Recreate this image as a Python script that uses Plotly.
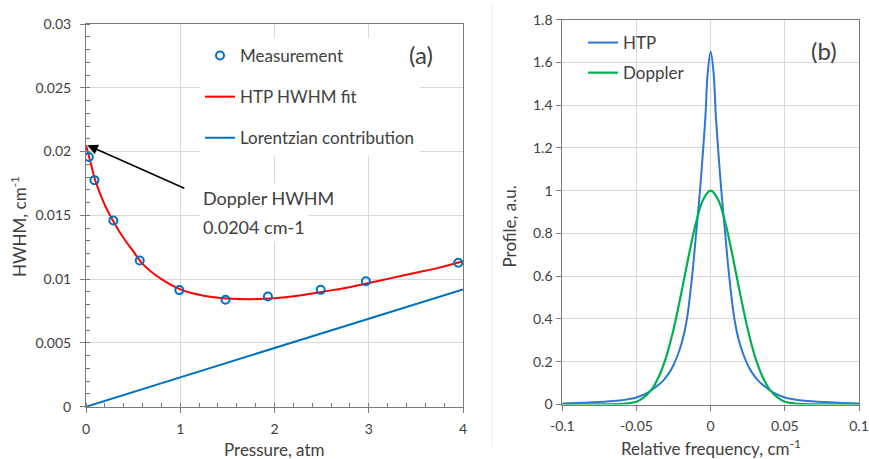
import plotly.graph_objects as go

# ---------------- data: panel (a) ----------------
meas_pressure = [0.03, 0.09, 0.29, 0.57, 0.99, 1.48, 1.93, 2.49, 2.97, 3.95]
meas_hwhm = [0.01958, 0.01776, 0.01459, 0.01146, 0.00914, 0.00838, 0.00864, 0.00916, 0.00984, 0.01128]

fit_pressure = [0, 0.05, 0.1, 0.2, 0.3, 0.4, 0.5, 0.6, 0.8, 1.0, 1.25, 1.5, 1.75,
                2.0, 2.25, 2.5, 2.75, 3.0, 3.25, 3.5, 3.75, 4.0]
fit_hwhm = [0.0205, 0.0191, 0.0177, 0.0158, 0.0144, 0.0132, 0.0122, 0.0112, 0.0100,
            0.0092, 0.0087, 0.00848, 0.00843, 0.0085, 0.0087, 0.0090, 0.0093, 0.0097,
            0.0101, 0.0105, 0.0109, 0.0114]

lor_pressure = [0, 4]
lor_hwhm = [0, 0.0092]

# ---------------- data: panel (b) ----------------
htp_freq = [-0.1, -0.09, -0.08, -0.07, -0.06, -0.05, -0.042, -0.036, -0.032, -0.028,
            -0.025, -0.022, -0.019, -0.016, -0.0125, -0.0098, -0.0072, -0.005, -0.0035,
            -0.002, 0, 0.002, 0.0035, 0.005, 0.0072, 0.0098, 0.0125, 0.016, 0.019, 0.022,
            0.025, 0.028, 0.032, 0.036, 0.042, 0.05, 0.06, 0.07, 0.08, 0.09, 0.1]
htp_prof = [0.005, 0.007, 0.010, 0.014, 0.020, 0.033, 0.057, 0.087, 0.112, 0.148,
            0.185, 0.235, 0.30, 0.40, 0.60, 0.80, 1.0, 1.2, 1.35,
            1.55, 1.65, 1.55, 1.35, 1.2, 1.0, 0.80, 0.60, 0.40, 0.30, 0.235,
            0.185, 0.148, 0.112, 0.087, 0.057, 0.033, 0.020, 0.014, 0.010, 0.007, 0.005]

dop_freq = [-0.1, -0.08, -0.06, -0.05, -0.045, -0.04, -0.035, -0.03, -0.025, -0.02,
            -0.015, -0.01, -0.005, 0, 0.005, 0.01, 0.015, 0.02, 0.025, 0.03, 0.035,
            0.04, 0.045, 0.05, 0.06, 0.08, 0.1]
dop_prof = [0, 0.0005, 0.003, 0.013, 0.033, 0.068, 0.13, 0.222, 0.352, 0.514,
            0.688, 0.847, 0.959, 1.0, 0.959, 0.847, 0.688, 0.514, 0.352, 0.222, 0.13,
            0.068, 0.033, 0.013, 0.003, 0.0005, 0]

a_xticks = [0, 1, 2, 3, 4]
a_yticks = [0, 0.005, 0.01, 0.015, 0.02, 0.025, 0.03]
b_xticks = [-0.1, -0.05, 0, 0.05, 0.1]
b_xticktext = ["-0.1", "-0.05", "0", "0.05", "0.1"]
b_yticks = [0, 0.2, 0.4, 0.6, 0.8, 1, 1.2, 1.4, 1.6, 1.8]

# ---------------- styling ----------------
W, H = 869, 459
FONT = "Lato, 'Open Sans', sans-serif"
TXT = "#404040"
AXC = "#7a7a7a"
GRID = "#d9d9d9"
BLUE = "#0070C0"
RED = "#FF0000"
HTPC = "#2F76D2"
GREEN = "#00B050"


def px(x):
    return x / W


def py(y):
    return 1 - y / H


fig = go.Figure()

fig.add_trace(go.Scatter(x=fit_pressure, y=fit_hwhm, mode="lines", name="HTP HWHM fit",
                         line=dict(color=RED, width=2, shape="spline"),
                         xaxis="x", yaxis="y", legend="legend", legendgroup="a2", legendrank=2))
fig.add_trace(go.Scatter(x=lor_pressure, y=lor_hwhm, mode="lines", name="Lorentzian contribution",
                         line=dict(color=BLUE, width=2),
                         xaxis="x", yaxis="y", legend="legend", legendgroup="a3", legendrank=3))
fig.add_trace(go.Scatter(x=meas_pressure, y=meas_hwhm, mode="markers", name="Measurement",
                         marker=dict(symbol="circle-open", size=8, color=BLUE,
                                     line=dict(width=2, color=BLUE)),
                         xaxis="x", yaxis="y", legend="legend", legendgroup="a1", legendrank=1))

fig.add_trace(go.Scatter(x=htp_freq, y=htp_prof, mode="lines", name="HTP",
                         line=dict(color=HTPC, width=2, shape="spline"),
                         xaxis="x2", yaxis="y2", legend="legend2", legendgroup="b1", legendrank=1))
fig.add_trace(go.Scatter(x=dop_freq, y=dop_prof, mode="lines", name="Doppler",
                         line=dict(color=GREEN, width=2.2, shape="spline"),
                         xaxis="x2", yaxis="y2", legend="legend2", legendgroup="b2", legendrank=2))

axis_common = dict(showline=True, linecolor=AXC, linewidth=1, mirror=True,
                   gridcolor=GRID, gridwidth=1, zeroline=False, automargin=False,
                   tickfont=dict(family=FONT, size=14, color=TXT),
                   ticks="outside", ticklen=5, tickcolor=AXC)

fig.update_layout(
    width=W, height=H,
    margin=dict(l=0, r=0, t=0, b=0, autoexpand=False),
    paper_bgcolor="white", plot_bgcolor="white",
    font=dict(family=FONT, color=TXT),
    xaxis=dict(domain=[px(86), px(463)], range=[0, 4], tickvals=a_xticks,
               ticklabelstandoff=4,
               minor=dict(ticks="inside", dtick=0.2, ticklen=4, tickcolor=AXC, showgrid=False),
               anchor="y", **axis_common),
    yaxis=dict(domain=[py(406.7), py(24)], range=[0, 0.03], tickvals=a_yticks,
               ticklabelstandoff=6,
               minor=dict(ticks="inside", dtick=0.001, ticklen=4, tickcolor=AXC, showgrid=False),
               anchor="x", **axis_common),
    xaxis2=dict(domain=[px(562.3), px(859)], range=[-0.1, 0.1], tickvals=b_xticks,
                ticktext=b_xticktext, ticklabelstandoff=4, anchor="y2", **axis_common),
    yaxis2=dict(domain=[py(404.5), py(19.7)], range=[0, 1.8], tickvals=b_yticks,
                ticklabelstandoff=1, anchor="x2", **axis_common),
    legend=dict(x=px(200), y=py(38), xanchor="left", yanchor="top",
                bgcolor="white", borderwidth=0, tracegroupgap=16,
                font=dict(family=FONT, size=17, color=TXT)),
    legend2=dict(x=px(583), y=py(25), xanchor="left", yanchor="top",
                 bgcolor="rgba(0,0,0,0)", borderwidth=0, tracegroupgap=5,
                 font=dict(family=FONT, size=17, color=TXT)),
    showlegend=True,
)

ctr = dict(xref="paper", yref="paper", showarrow=False, xanchor="center", yanchor="middle")
annotations = [
    dict(text="Pressure, atm", x=px(274.5), y=py(449),
         font=dict(family=FONT, size=17, color=TXT), **ctr),
    dict(text="HWHM, cm<sup>-1</sup>", x=px(18), y=py(227), textangle=-90,
         font=dict(family=FONT, size=17, color=TXT), **ctr),
    dict(text="Relative frequency, cm<sup>-1</sup>", x=px(711), y=py(447),
         font=dict(family=FONT, size=17, color=TXT), **ctr),
    dict(text="Profile, a.u.", x=px(509), y=py(226.5), textangle=-90,
         font=dict(family=FONT, size=17, color=TXT), **ctr),
    dict(text="(a)", x=px(421), y=py(55), font=dict(family=FONT, size=24, color=TXT), **ctr),
    dict(text="(b)", x=px(823.5), y=py(50), font=dict(family=FONT, size=24, color=TXT), **ctr),
    dict(text="Doppler HWHM", x=px(199), y=py(198), xref="paper", yref="paper",
         xanchor="left", yanchor="middle", showarrow=False, bgcolor="white", borderpad=3,
         font=dict(family=FONT, size=18, color=TXT)),
    dict(text="0.0204 cm-1", x=px(199), y=py(227), xref="paper", yref="paper",
         xanchor="left", yanchor="middle", showarrow=False, bgcolor="white", borderpad=3,
         font=dict(family=FONT, size=18, color=TXT)),
    dict(text=" ", x=0.014, y=0.0205, xref="x", yref="y", showarrow=True,
         ax=99, ay=44, arrowhead=2, arrowsize=1.4, arrowwidth=1.5, arrowcolor="black",
         font=dict(size=2)),
]
fig.update_layout(annotations=annotations)

fig.add_shape(type="line", xref="paper", yref="paper", x0=px(492), x1=px(492),
              y0=py(447), y1=py(5), line=dict(color="#ececec", width=1))

fig.write_html("out.html", config={"displayModeBar": False},
               post_script="document.body.style.margin='0px';")
